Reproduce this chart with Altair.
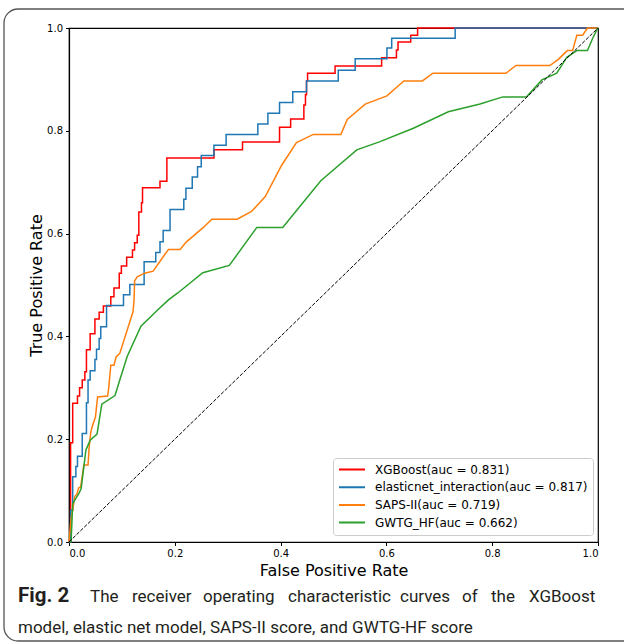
import altair as alt
import pandas as pd

labels = ["XGBoost(auc = 0.831)", "elasticnet_interaction(auc = 0.817)",
          "SAPS-II(auc = 0.719)", "GWTG_HF(auc = 0.662)"]
colors = ["#ff0000", "#1f77b4", "#ff7f0e", "#2ca02c"]

# XGBoost ROC step corners (fpr where tpr jumps, tpr after each jump)
xgb_fpr_steps = [0.003, 0.007, 0.016, 0.020, 0.025, 0.030, 0.033, 0.040, 0.049, 0.057,
                 0.065, 0.079, 0.085, 0.095, 0.099, 0.109, 0.120, 0.124, 0.129, 0.132,
                 0.137, 0.139, 0.172, 0.185, 0.274, 0.328, 0.398, 0.419, 0.444, 0.447,
                 0.449, 0.451, 0.503, 0.591, 0.619, 0.622, 0.646, 0.659]
xgb_tpr_steps = [0.193, 0.270, 0.284, 0.300, 0.315, 0.331, 0.374, 0.405, 0.434, 0.447,
                 0.459, 0.477, 0.494, 0.523, 0.537, 0.554, 0.568, 0.582, 0.597, 0.642,
                 0.660, 0.689, 0.702, 0.747, 0.763, 0.778, 0.807, 0.823, 0.850, 0.870,
                 0.897, 0.912, 0.926, 0.942, 0.957, 0.973, 0.986, 1.000]

# elastic net ROC step corners
enet_fpr_steps = [0.003, 0.007, 0.013, 0.016, 0.025, 0.033, 0.036, 0.040, 0.049, 0.052,
                  0.057, 0.060, 0.071, 0.103, 0.115, 0.142, 0.164, 0.172, 0.178, 0.191,
                  0.217, 0.221, 0.233, 0.243, 0.250, 0.274, 0.297, 0.357, 0.376, 0.398,
                  0.423, 0.449, 0.509, 0.541, 0.601, 0.610, 0.730]
enet_tpr_steps = [0.062, 0.127, 0.147, 0.167, 0.211, 0.271, 0.315, 0.333, 0.355, 0.375,
                  0.396, 0.419, 0.460, 0.481, 0.501, 0.545, 0.563, 0.584, 0.606, 0.647,
                  0.667, 0.688, 0.710, 0.730, 0.752, 0.772, 0.793, 0.813, 0.834, 0.855,
                  0.876, 0.897, 0.918, 0.940, 0.961, 0.980, 1.000]

saps_fpr = [0, 0.004, 0.007, 0.011, 0.015, 0.018, 0.022, 0.024, 0.028, 0.036, 0.038, 0.041,
            0.043, 0.050, 0.054, 0.073, 0.075, 0.079, 0.085, 0.089, 0.096, 0.121, 0.123,
            0.124, 0.129, 0.143, 0.159, 0.178, 0.188, 0.210, 0.222, 0.254, 0.270, 0.318,
            0.345, 0.371, 0.402, 0.430, 0.462, 0.514, 0.526, 0.560, 0.601, 0.633, 0.668,
            0.688, 0.826, 0.845, 0.909, 0.925, 0.942, 0.952, 0.960, 0.971, 0.980, 1.0]
saps_tpr = [0, 0.046, 0.062, 0.089, 0.093, 0.105, 0.107, 0.121, 0.150, 0.150, 0.183, 0.212,
            0.222, 0.243, 0.282, 0.284, 0.299, 0.344, 0.344, 0.360, 0.367, 0.448, 0.471,
            0.508, 0.516, 0.523, 0.527, 0.555, 0.569, 0.569, 0.584, 0.612, 0.628, 0.628,
            0.643, 0.672, 0.733, 0.777, 0.793, 0.793, 0.822, 0.852, 0.868, 0.897, 0.897,
            0.912, 0.912, 0.927, 0.927, 0.939, 0.956, 0.956, 0.986, 0.986, 1.0, 1.0]

gwtg_fpr = [0, 0.004, 0.007, 0.009, 0.019, 0.023, 0.025, 0.032, 0.035, 0.040, 0.053, 0.062,
            0.087, 0.096, 0.110, 0.136, 0.167, 0.188, 0.205, 0.253, 0.303, 0.355, 0.404,
            0.476, 0.544, 0.588, 0.651, 0.717, 0.777, 0.820, 0.865, 0.894, 0.922, 0.941,
            0.960, 0.980, 0.990, 0.999, 1.0]
gwtg_tpr = [0, 0.001, 0.074, 0.078, 0.095, 0.104, 0.121, 0.179, 0.186, 0.198, 0.210, 0.268,
            0.285, 0.315, 0.361, 0.420, 0.451, 0.471, 0.484, 0.524, 0.538, 0.612, 0.612,
            0.703, 0.763, 0.779, 0.805, 0.837, 0.852, 0.866, 0.866, 0.899, 0.912, 0.943,
            0.956, 0.956, 0.980, 0.999, 1.0]

diag = [0.0, 1.0]

caption_bold = "Fig. 2"
caption_line1_words = ["The", "receiver", "operating", "characteristic", "curves", "of",
                       "the", "XGBoost"]
caption_line2 = "model, elastic net model, SAPS-II score, and GWTG-HF score"


def step_table(fs, ts):
    xs, ys = [0.0], [0.0]
    prev = 0.0
    for f, t in zip(fs, ts):
        xs += [f, f]
        ys += [prev, t]
        prev = t
    xs.append(1.0)
    ys.append(prev)
    return xs, ys


series = [step_table(xgb_fpr_steps, xgb_tpr_steps),
          step_table(enet_fpr_steps, enet_tpr_steps),
          (saps_fpr, saps_tpr),
          (gwtg_fpr, gwtg_tpr)]

rows = []
for lab, (fx, ty) in zip(labels, series):
    for i, (a, b) in enumerate(zip(fx, ty)):
        rows.append({"model": lab, "fpr": a, "tpr": b, "i": i})
df = pd.DataFrame(rows)
diag_df = pd.DataFrame({"fpr": diag, "tpr": diag})

FONT = "DejaVu Sans"
CAP_FONT = "Roboto"
ticks = [0.0, 0.2, 0.4, 0.6, 0.8, 1.0]

xenc = alt.X("fpr:Q", scale=alt.Scale(domain=[0, 1], nice=False),
             axis=alt.Axis(values=ticks, format=".1f", title="False Positive Rate"))
yenc = alt.Y("tpr:Q", scale=alt.Scale(domain=[0, 1], nice=False),
             axis=alt.Axis(values=ticks, format=".1f", title="True Positive Rate"))

one = pd.DataFrame({"a": [0]})

border = alt.Chart(one).mark_rect(
    fill="transparent", stroke="#555555", strokeWidth=1.3, cornerRadius=14
).encode(x=alt.value(-65), x2=alt.value(600), y=alt.value(-19), y2=alt.value(613))

lines = alt.Chart(df).mark_line(strokeWidth=1.5).encode(
    x=xenc, y=yenc,
    color=alt.Color("model:N", scale=alt.Scale(domain=labels, range=colors),
                    legend=alt.Legend(title=None, orient="none", legendX=264, legendY=430,
                                      symbolType="stroke", symbolSize=676,
                                      symbolStrokeWidth=2, labelFont=FONT,
                                      labelFontSize=12, labelColor="black",
                                      labelLimit=0, labelOffset=9,
                                      padding=5, clipHeight=13, rowPadding=4.7,
                                      strokeColor="#cccccc", fillColor="white",
                                      cornerRadius=3)),
    order=alt.Order("i:Q"),
    detail="model:N",
)

diag_line = alt.Chart(diag_df).mark_line(
    color="black", strokeWidth=1, strokeDash=[3.7, 1.6]
).encode(x="fpr:Q", y="tpr:Q")

layers = [border, lines, diag_line]

cap_bold = alt.Chart(one).mark_text(
    align="left", baseline="alphabetic", font=CAP_FONT,
    fontSize=20.5, fontWeight="bold", color="#231f20", text=caption_bold
).encode(x=alt.value(-51), y=alt.value(574))
layers.append(cap_bold)

word_x = [90, 132, 203, 288, 400, 462, 491, 529]
for w, px in zip(caption_line1_words, word_x):
    layers.append(alt.Chart(one).mark_text(
        align="left", baseline="alphabetic", font=CAP_FONT, fontSize=17,
        color="#231f20", text=w
    ).encode(x=alt.value(px - 69), y=alt.value(574)))

cap2 = alt.Chart(one).mark_text(
    align="left", baseline="alphabetic", font=CAP_FONT,
    fontSize=17, color="#231f20", text=caption_line2
).encode(x=alt.value(-51), y=alt.value(605))
layers.append(cap2)

chart = alt.layer(*layers).properties(
    width=529, height=514,
    autosize=alt.AutoSizeParams(type="none"),
    padding={"left": 69, "top": 28, "right": 26, "bottom": 102},
).configure_view(
    stroke="black", strokeWidth=1.2
).configure_axis(
    grid=False, domainColor="black", domainWidth=1.2, tickColor="black", tickSize=3.5,
    tickWidth=1, labelFont=FONT, labelFontSize=10, labelColor="black", labelPadding=3,
    titleFont=FONT, titleFontSize=16, titleFontWeight="normal", titleColor="black",
).configure_axisX(titlePadding=4).configure_axisY(titlePadding=2)

chart.save("out.html", embed_options={"renderer": "svg", "actions": False})
